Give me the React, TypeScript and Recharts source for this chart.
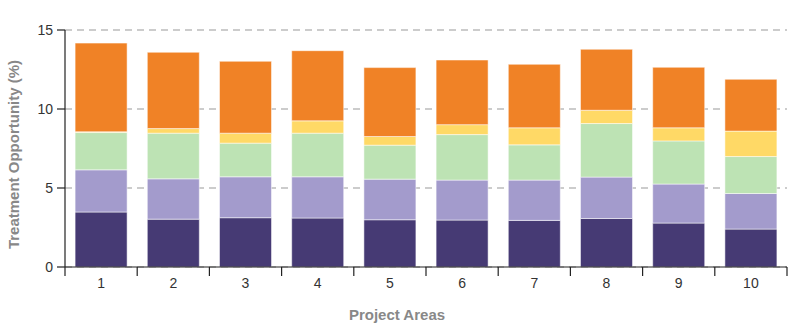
import { BarChart, Bar, XAxis, YAxis, CartesianGrid, Label } from "recharts"

const areas = ["1", "2", "3", "4", "5", "6", "7", "8", "9", "10"]
const darkPurple = [3.48, 3.03, 3.12, 3.1, 2.99, 2.97, 2.95, 3.07, 2.78, 2.4]
const lightPurple = [2.67, 2.55, 2.59, 2.61, 2.57, 2.53, 2.55, 2.62, 2.47, 2.25]
const green = [2.36, 2.89, 2.13, 2.76, 2.15, 2.88, 2.23, 3.39, 2.73, 2.34]
const yellow = [0.05, 0.29, 0.63, 0.78, 0.55, 0.63, 1.08, 0.84, 0.83, 1.61]
const orange = [5.61, 4.83, 4.55, 4.44, 4.36, 4.09, 4.02, 3.86, 3.83, 3.28]
const yTicks = [0, 5, 10, 15]

const series = [
  { key: "dark", values: darkPurple, color: "#463a74" },
  { key: "purple", values: lightPurple, color: "#a39bcc" },
  { key: "green", values: green, color: "#bde3b4" },
  { key: "yellow", values: yellow, color: "#ffd966" },
  { key: "orange", values: orange, color: "#f08226" },
]

const data = areas.map((name, i) => {
  const row: Record<string, string | number> = { name }
  series.forEach((s) => (row[s.key] = s.values[i]))
  return row
})

const FONT = "'Liberation Sans', Arial, sans-serif"
const STEP = 722 / areas.length

function AreaTick(props: any) {
  const { x, y, payload, index } = props
  return (
    <g>
      <line x1={x - STEP / 2} x2={x - STEP / 2} y1={y} y2={y + 9} stroke="#222" strokeWidth={1.2} />
      {index === areas.length - 1 && (
        <line x1={x + STEP / 2} x2={x + STEP / 2} y1={y} y2={y + 9} stroke="#222" strokeWidth={1.2} />
      )}
      <text x={x} y={y + 21} textAnchor="middle" fontSize={14} fill="#333" fontFamily={FONT}>
        {payload.value}
      </text>
    </g>
  )
}

export default function App() {
  return (
    <div style={{ position: "absolute", left: 0, top: 0, background: "#fff" }}>
      <BarChart
        width={800}
        height={329}
        data={data}
        margin={{ top: 30, right: 13, bottom: 0, left: 0 }}
        barCategoryGap="14%"
      >
        <CartesianGrid vertical={false} stroke="#999" strokeDasharray="7 5" />
        <XAxis
          dataKey="name"
          height={62}
          tickLine={false}
          tickSize={0}
          tickMargin={0}
          axisLine={{ stroke: "#222", strokeWidth: 1.2 }}
          tick={<AreaTick />}
          interval={0}
        >
          <Label
            value="Project Areas"
            position="insideBottom"
            offset={9}
            dx={-29}
            style={{ fill: "#888", fontSize: 15, fontWeight: 700, fontFamily: FONT }}
          />
        </XAxis>
        <YAxis
          width={65}
          domain={[0, 15]}
          ticks={yTicks}
          interval={0}
          tickSize={8}
          tickMargin={4}
          axisLine={{ stroke: "#222", strokeWidth: 1.2 }}
          tickLine={{ stroke: "#222", strokeWidth: 1.2 }}
          tick={{ fill: "#333", fontSize: 14, fontFamily: FONT }}
        >
          <Label
            value="Treatment Opportunity (%)"
            angle={-90}
            position="insideLeft"
            offset={14}
            dy={6}
            style={{ textAnchor: "middle", fill: "#888", fontSize: 15, fontWeight: 700, fontFamily: FONT }}
          />
        </YAxis>
        {series.map((s) => (
          <Bar
            key={s.key}
            dataKey={s.key}
            stackId="a"
            fill={s.color}
            stroke="#ffffff"
            strokeOpacity={0.5}
            strokeWidth={1}
            isAnimationActive={false}
          />
        ))}
      </BarChart>
    </div>
  )
}
